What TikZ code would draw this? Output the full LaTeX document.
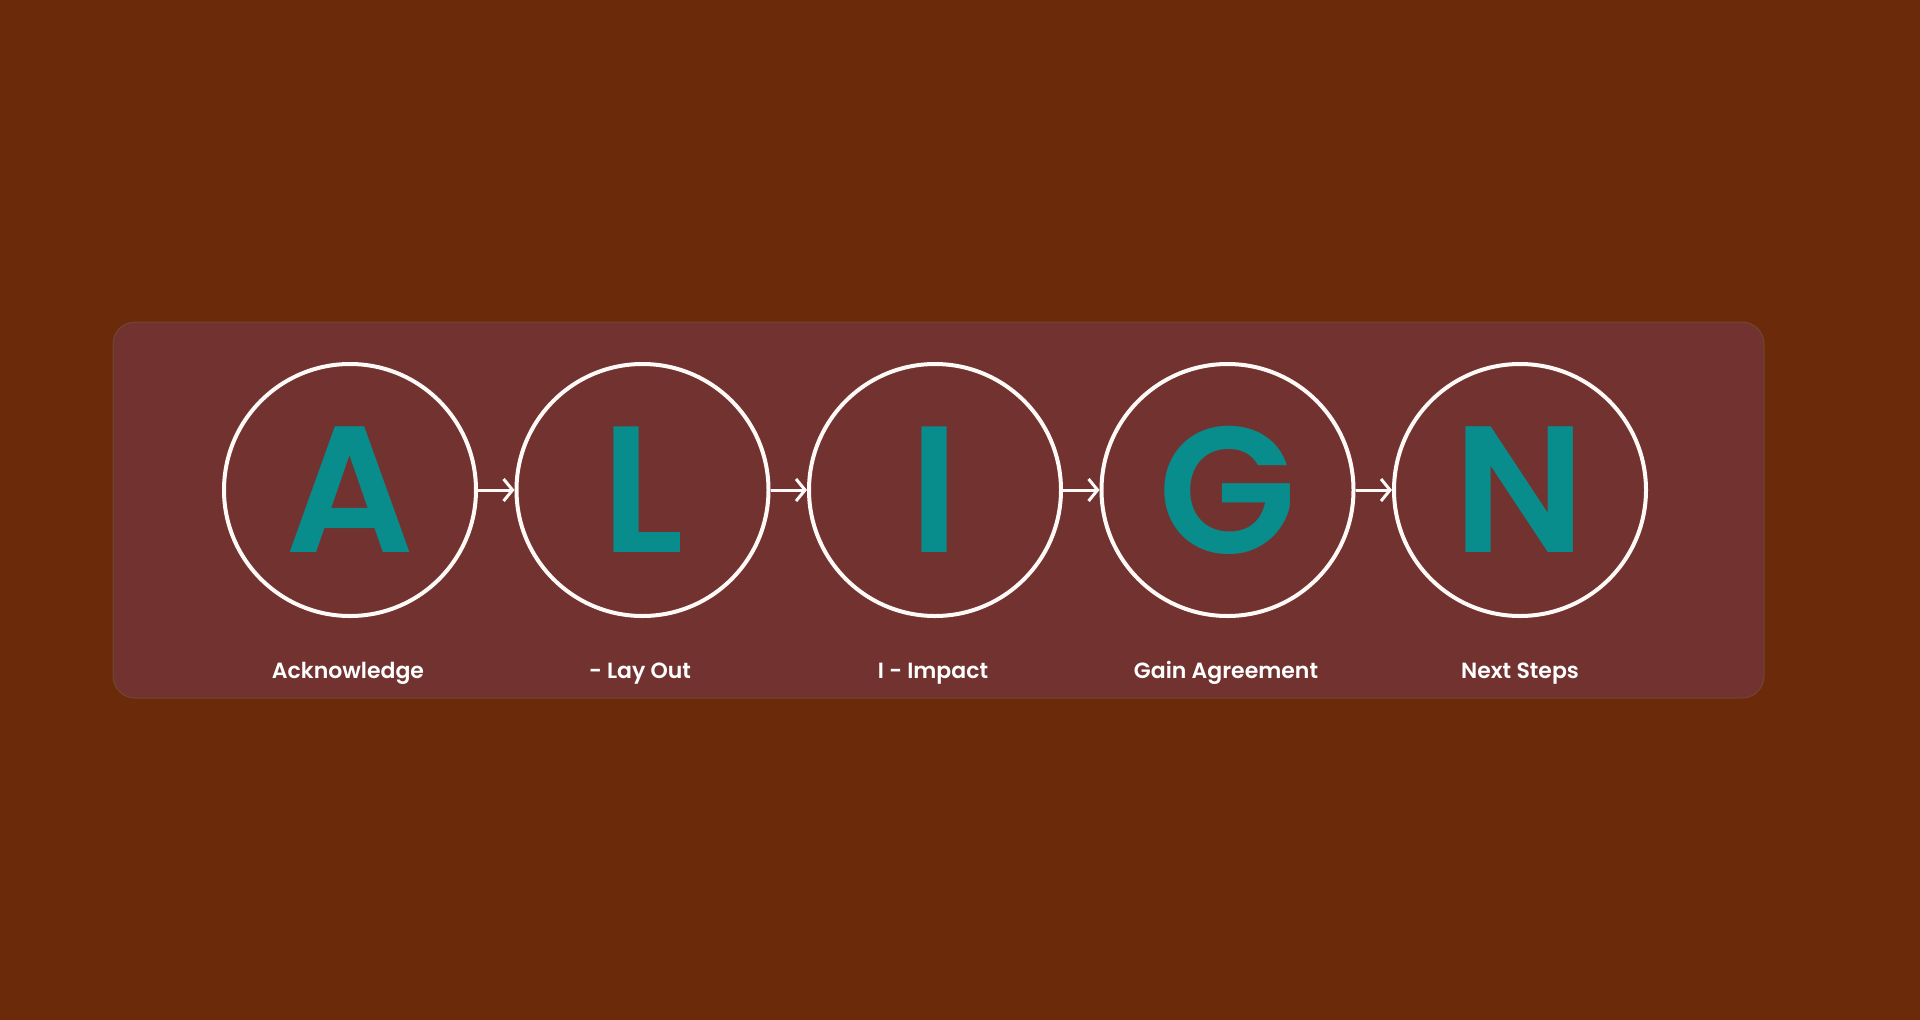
\documentclass[tikz,border=0pt]{standalone}
\usepackage{fontspec}
\setmainfont{Poppins}[BoldFont={Poppins SemiBold}]
\usetikzlibrary{arrows.meta}
\definecolor{bgout}{RGB}{107,42,9}
\definecolor{panelfill}{RGB}{114,51,48}
\definecolor{panelline}{RGB}{112,70,50}
\definecolor{letterteal}{RGB}{8,140,140}
\definecolor{ringwhite}{RGB}{255,250,247}
\tikzset{
  ring/.style={circle, draw=ringwhite, line width=4pt, minimum size=252pt, inner sep=0pt,
    text=letterteal, font=\fontsize{180}{180}\selectfont\bfseries},
  steplabel/.style={anchor=base, text=white, inner sep=0pt, font=\fontsize{22}{22}\selectfont\bfseries},
  link/.style={draw=ringwhite, line width=3pt, -{Straight Barb[length=9pt,width=22pt]}}
}
\begin{document}
\begin{tikzpicture}[x=1pt,y=-1pt]
\fill[bgout] (0,0) rectangle (1920,1020);
\useasboundingbox (0,0) rectangle (1920,1020);
\draw[panelline, fill=panelfill, line width=1pt, rounded corners=22pt] (113,322) rectangle (1764,698);
\node[ring] (A) at (350,490) {A};
\node[ring] (L) at (642.5,490) {L};
\node[ring] (I) at (935,490) {I};
\node[ring] (G) at (1227.5,490) {G};
\node[ring] (N) at (1520,490) {N};
\draw[link] (A) -- (L);
\draw[link] (L) -- (I);
\draw[link] (I) -- (G);
\draw[link] (G) -- (N);
\node[steplabel] (la) at (348,678) {Acknowledge};
\node[steplabel] (ll) at (640,678) {- Lay Out};
\node[steplabel] (li) at (933,678) {I - Impact};
\node[steplabel] (lg) at (1226,678) {Gain Agreement};
\node[steplabel] (ln) at (1520,678) {Next Steps};
\end{tikzpicture}
\end{document}
